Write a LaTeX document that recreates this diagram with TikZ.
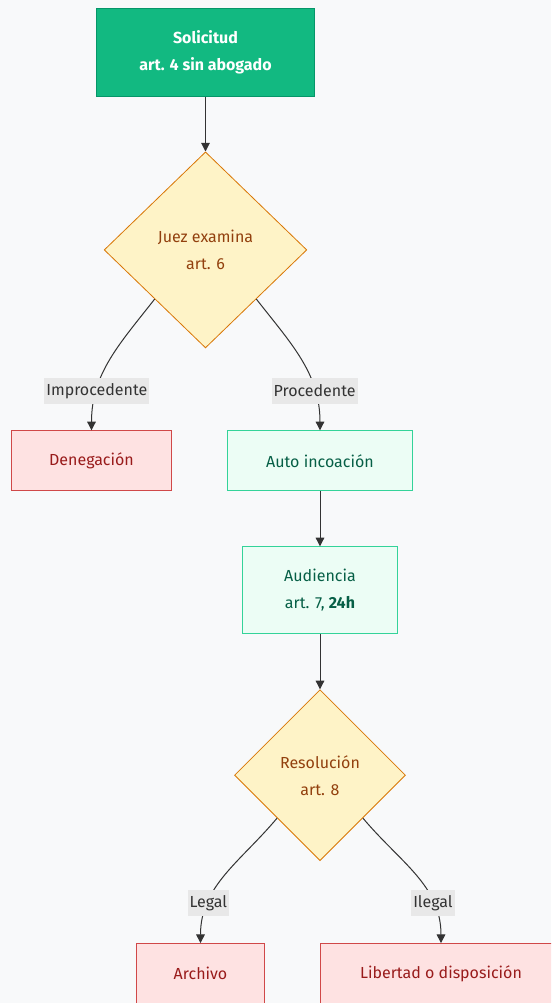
\documentclass[tikz,border=0pt]{standalone}
\usepackage{fontspec}
\setmainfont{Fira Sans}
\usepackage{xcolor}
\usepackage{tikz}
\usetikzlibrary{positioning, arrows.meta, shapes.geometric}

\definecolor{pagebg}{HTML}{F8F9FA}
\definecolor{startfill}{HTML}{12B981}
\definecolor{startline}{HTML}{059669}
\definecolor{checkfill}{HTML}{FEF3C7}
\definecolor{checkline}{HTML}{D97706}
\definecolor{checktext}{HTML}{92400E}
\definecolor{refusefill}{HTML}{FEE2E2}
\definecolor{refuseline}{HTML}{D04848}
\definecolor{refusetext}{HTML}{991B1B}
\definecolor{goodfill}{HTML}{ECFDF5}
\definecolor{goodline}{HTML}{34D399}
\definecolor{goodtext}{HTML}{065F46}
\definecolor{edgegray}{HTML}{333333}
\definecolor{labelbg}{HTML}{E8E8E8}

\begin{document}
\begin{tikzpicture}[node distance=41.25pt and 60pt]

	% Styles
	\tikzset{
		start/.style={
			rectangle, draw=startline, fill=startfill, line width=0.75pt,
			minimum width=162.75pt, minimum height=65.25pt,
			align=center, text=white, font=\fontsize{12}{20.25}\selectfont\bfseries
		},
		check/.style={
			diamond, draw=checkline, fill=checkfill, line width=0.6pt, inner sep=0pt,
			align=center, text=checktext, font=\fontsize{12}{20.25}\selectfont
		},
		refuse/.style={
			rectangle, draw=refuseline, fill=refusefill, line width=0.75pt,
			minimum height=45pt, align=center, text=refusetext, font=\fontsize{12}{20.25}\selectfont
		},
		good/.style={
			rectangle, draw=goodline, fill=goodfill, line width=0.75pt,
			minimum height=45pt, align=center, text=goodtext, font=\fontsize{12}{20.25}\selectfont
		},
		arrow/.style={line width=0.75pt, draw=edgegray, -{Triangle[length=6.5pt, width=6.5pt]}},
		labelbox/.style={
			fill=labelbg, text=edgegray, inner xsep=1.5pt, inner ysep=0pt,
			minimum height=19.5pt, font=\fontsize{12}{14}\selectfont
		}
	}

	% Page
	\clip (-154.125pt, 39.375pt) rectangle (259.125pt, -712.875pt);
	\fill[pagebg] (-154.125pt, 39.375pt) rectangle (259.125pt, -712.875pt);

	% Start
	\node (solicitud) [start] at (0,0) {Solicitud\\art. 4 sin abogado};

	% First check
	\node (juez) [check, minimum width=152pt, minimum height=147pt, below=of solicitud] {Juez examina\\art. 6};
	\node (denegacion) [refuse, minimum width=120pt, below=61.5pt of juez, xshift=-85.5pt] {Denegación};
	\node (auto) [good, minimum width=138.75pt, below=61.5pt of juez, xshift=85.875pt] {Auto incoación};

	% Hearing
	\node (audiencia) [good, minimum width=116.25pt, minimum height=65.25pt, below=of auto] {Audiencia\\art. 7, \textbf{24h}};
	\node (resolucion) [check, minimum width=128.25pt, minimum height=128.25pt, below=of audiencia] {Resolución\\art. 8};

	% Outcomes
	\node (archivo) [refuse, minimum width=95.25pt, below=61.5pt of resolucion, xshift=-89.625pt] {Archivo};
	\node (libertad) [refuse, minimum width=181.5pt, below=61.5pt of resolucion, xshift=90.75pt] {Libertad o disposición};

	% Arrows with labels
	\draw[arrow] (solicitud.south) -- (juez.north);
	\draw[arrow] (juez.south west) to[out=232, in=90] node[labelbox, pos=0.74] {Improcedente} (denegacion.north);
	\draw[arrow] (juez.south east) to[out=-52, in=90] node[labelbox, pos=0.74] {Procedente} (auto.north);
	\draw[arrow] (auto.south) -- (audiencia.north);
	\draw[arrow] (audiencia.south) -- (resolucion.north);
	\draw[arrow] (resolucion.south west) to[out=230, in=90] node[labelbox, pos=0.73] {Legal} (archivo.north);
	\draw[arrow] (resolucion.south east) to[out=-50, in=90] node[labelbox, pos=0.73] {Ilegal} (libertad.north);

\end{tikzpicture}
\end{document}
